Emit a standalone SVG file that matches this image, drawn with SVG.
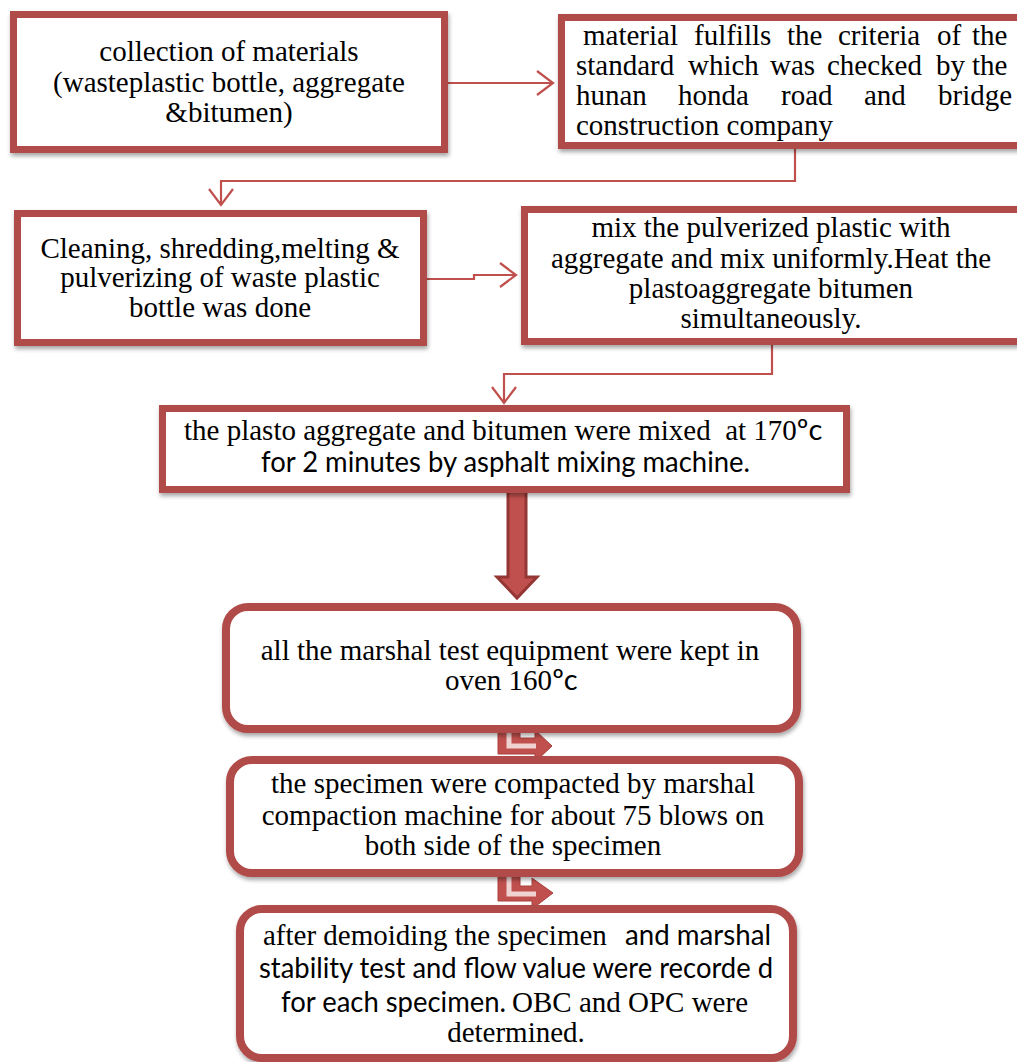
<svg xmlns="http://www.w3.org/2000/svg" width="1017" height="1062" viewBox="0 0 1017 1062">
<defs>
<filter id="sh" x="-5%" y="-10%" width="110%" height="130%">
<feDropShadow dx="1" dy="3" stdDeviation="2" flood-color="#000" flood-opacity="0.35"/>
</filter>
<marker id="vh" markerUnits="userSpaceOnUse" markerWidth="22" markerHeight="28" refX="18" refY="13" orient="auto">
<path d="M2,1 L18,13 L2,25" fill="none" stroke="#C0504D" stroke-width="2.2"/>
</marker>
</defs>
<style>
.box{fill:#fff;stroke:#B04B48;stroke-width:7;filter:url(#sh)}
.rbox{fill:#fff;stroke:#B04B48;stroke-width:8;filter:url(#sh)}
.con{fill:none;stroke:#C0504D;stroke-width:2.2}
.s{font-family:"Liberation Serif","Times New Roman",serif;font-size:29px;fill:#000}
.n{font-family:Lato,"Liberation Sans",sans-serif;font-size:29px;fill:#000}
.m{text-anchor:middle}
.bent{fill:#C0504D;stroke:#A9403D;stroke-width:1}
.hl{fill:none;stroke:#F0D2D1;stroke-width:5}
</style>
<rect width="1017" height="1062" fill="#fff"/>
<g id="connectors">
<path class="con" d="M448,83 H553" marker-end="url(#vh)"/>
<path class="con" d="M795,149 V181 H221 V205" marker-end="url(#vh)"/>
<path class="con" d="M427,279 H474 V275 H516" marker-end="url(#vh)"/>
<path class="con" d="M772,345 V374 H504 V403" marker-end="url(#vh)"/>
<path d="M508,488 H526 V577 H537 L517,598 L497,577 H508 Z" fill="#C0504D" stroke="#943634" stroke-width="3"/>
<path class="bent" d="M498,700 H520 V738 H535 V730 L552,746 L535,762 V754 H498 Z"/>
<path class="hl" d="M509,715 V746 H536"/>
<path class="bent" d="M498,850 H520 V886 H532 V878 L553,893 L532,909 V901 H498 Z"/>
<path class="hl" d="M509,865 V894 H536"/>
</g>
<g id="n1">
<rect class="box" x="13.5" y="14.5" width="431" height="135"/>
<text class="s m" x="229" y="61">collection of materials</text>
<text class="s m" x="229" y="92">(wasteplastic bottle, aggregate</text>
<text class="s m" x="229" y="122">&amp;bitumen)</text>
</g>
<g id="n2">
<rect class="box" x="561.5" y="17.5" width="465" height="128"/>
<text class="s" y="45"><tspan x="583">material</tspan><tspan x="694">fulfills</tspan><tspan x="787">the</tspan><tspan x="838">criteria</tspan><tspan x="937">of</tspan><tspan x="972">the</tspan></text>
<text class="s" y="75"><tspan x="576">standard</tspan><tspan x="688">which</tspan><tspan x="770">was</tspan><tspan x="827">checked</tspan><tspan x="936">by</tspan><tspan x="972">the</tspan></text>
<text class="s" y="105"><tspan x="576">hunan</tspan><tspan x="678">honda</tspan><tspan x="781">road</tspan><tspan x="864">and</tspan><tspan x="938">bridge</tspan></text>
<text class="s" x="576" y="135">construction company</text>
</g>
<g id="n3">
<rect class="box" x="17.5" y="213.5" width="406" height="129"/>
<text class="s m" x="220" y="258">Cleaning, shredding,melting &amp;</text>
<text class="s m" x="220" y="287">pulverizing of waste plastic</text>
<text class="s m" x="220" y="317">bottle was done</text>
</g>
<g id="n4">
<rect class="box" x="524.5" y="209.5" width="500" height="132"/>
<text class="s m" x="771" y="237">mix the pulverized plastic with</text>
<text class="s m" x="771" y="268">aggregate and mix uniformly.Heat the</text>
<text class="s m" x="771" y="298">plastoaggregate bitumen</text>
<text class="s m" x="771" y="328">simultaneously.</text>
</g>
<g id="n5">
<rect class="box" x="162.5" y="408.5" width="684" height="81"/>
<text class="s" x="184" y="440" xml:space="preserve">the plasto aggregate and bitumen were mixed  at 170<tspan class="n">ºc</tspan></text>
<text class="n" x="261" y="472" textLength="489" lengthAdjust="spacingAndGlyphs">for 2 minutes by asphalt mixing machine.</text>
</g>
<g id="n6">
<rect class="rbox" x="226" y="607" width="571" height="122" rx="22"/>
<text class="s m" x="510" y="660">all the marshal test equipment were kept in</text>
<text class="s" x="445" y="690">oven 160<tspan class="n">ºc</tspan></text>
</g>
<g id="n7">
<rect class="rbox" x="230" y="760" width="569" height="113" rx="22"/>
<text class="s m" x="513" y="793">the specimen were compacted by marshal</text>
<text class="s m" x="513" y="825">compaction machine for about 75 blows on</text>
<text class="s m" x="513" y="855">both side of the specimen</text>
</g>
<g id="n8">
<rect class="rbox" x="240" y="909" width="553" height="149" rx="22"/>
<text class="s" x="263" y="945">after demoiding the specimen</text>
<text class="n" x="625" y="945" textLength="146" lengthAdjust="spacingAndGlyphs">and marshal</text>
<text class="n" x="259" y="978" textLength="514" lengthAdjust="spacingAndGlyphs">stability test and flow value were recorde d</text>
<text class="n" x="281" y="1012" textLength="225" lengthAdjust="spacingAndGlyphs">for each specimen.</text>
<text class="s" x="512" y="1012">OBC and OPC were</text>
<text class="s m" x="516" y="1042">determined.</text>
</g>
</svg>
